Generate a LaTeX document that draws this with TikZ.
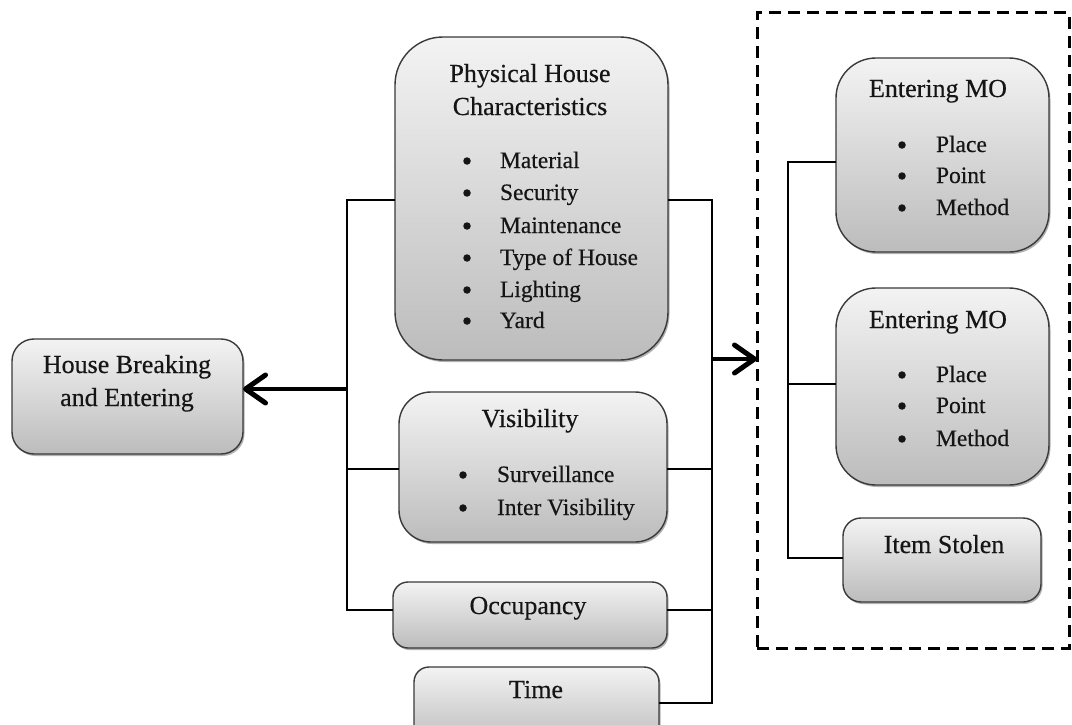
\documentclass[tikz,border=0pt]{standalone}
\usepackage{fontspec}
\setmainfont{Liberation Serif}[FakeBold=0.4]
\usetikzlibrary{arrows.meta,shadows}
\definecolor{boxtop}{HTML}{F3F3F3}
\definecolor{boxbot}{HTML}{BCBCBC}
\definecolor{boxline}{HTML}{3A3A3A}
\definecolor{txtc}{HTML}{151515}
\begin{document}
\begin{tikzpicture}[x=1pt,y=-1pt,
  box/.style={draw=boxline, line width=1.4pt, top color=boxtop, bottom color=boxbot,
    inner sep=0pt, outer sep=0pt,
    drop shadow={shadow xshift=1.5pt, shadow yshift=-2pt, opacity=.3, fill=black}},
  txt/.style={font=\fontsize{23.5}{27}\selectfont, text=txtc, inner sep=0pt, outer sep=0pt},
  ttl/.style={font=\fontsize{26}{30}\selectfont, text=txtc, inner sep=0pt, outer sep=0pt, anchor=base},
  dot/.style={circle, fill=txtc, inner sep=0pt, outer sep=0pt, minimum size=7.5pt},
  conn/.style={line width=2.2pt, black},
  bigarrow/.style={line width=4.8pt, black, -{Straight Barb[length=20pt,width=28pt,line width=5pt,round]}},
  dashbox/.style={draw=black, line width=3pt, dash pattern=on 12pt off 7pt, inner sep=0pt, outer sep=0pt}]
\useasboundingbox (0,0) rectangle (1072,725);
\clip (0,0) rectangle (1072,725);
\fill[white] (0,0) rectangle (1072,725);

% dashed group
\node[dashbox, minimum width=312pt, minimum height=635pt] (group) at (913,330.5) {};

% boxes
\node[box, minimum width=231pt, minimum height=115pt, rounded corners=22pt] (hbe) at (127.5,396.5) {};
\node[box, minimum width=273pt, minimum height=323pt, rounded corners=48pt] (phys) at (531.5,198.5) {};
\node[box, minimum width=268pt, minimum height=150pt, rounded corners=32pt] (vis) at (533,467) {};
\node[box, minimum width=274pt, minimum height=66pt, rounded corners=15pt] (occ) at (530,615) {};
\node[box, minimum width=245pt, minimum height=78pt, rounded corners=15pt] (time) at (536.5,706) {};
\node[box, minimum width=213pt, minimum height=194pt, rounded corners=40pt] (emo1) at (942.5,155) {};
\node[box, minimum width=213pt, minimum height=197pt, rounded corners=40pt] (emo2) at (942.5,386.5) {};
\node[box, minimum width=198pt, minimum height=84pt, rounded corners=18pt] (item) at (942,560) {};

% texts
\node[ttl] (hbeA) at (127,373) {House Breaking};
\node[ttl] (hbeB) at (127,406) {and Entering};

\node[ttl] (physA) at (530,82) {Physical House};
\node[ttl] (physB) at (530,115) {Characteristics};
\node[dot] (pb1) at (467,161) {};
\node[dot] (pb2) at (467,193) {};
\node[dot] (pb3) at (467,226) {};
\node[dot] (pb4) at (467,258) {};
\node[dot] (pb5) at (467,290) {};
\node[dot] (pb6) at (467,321) {};
\node[txt, anchor=base west] (pi1) at (500,168) {Material};
\node[txt, anchor=base west] (pi2) at (500,200) {Security};
\node[txt, anchor=base west] (pi3) at (500,233) {Maintenance};
\node[txt, anchor=base west] (pi4) at (500,265) {Type of House};
\node[txt, anchor=base west] (pi5) at (500,297) {Lighting};
\node[txt, anchor=base west] (pi6) at (500,328) {Yard};

\node[ttl] (visA) at (530,427) {Visibility};
\node[dot] (vb1) at (463,475) {};
\node[dot] (vb2) at (463,508) {};
\node[txt, anchor=base west] (vi1) at (497,482) {Surveillance};
\node[txt, anchor=base west] (vi2) at (497,515) {Inter Visibility};

\node[ttl] (occA) at (528,614) {Occupancy};
\node[ttl] (timeA) at (536,698) {Time};

\node[ttl] (emoA) at (938,97) {Entering MO};
\node[dot] (eb1) at (902,145) {};
\node[dot] (eb2) at (902,176) {};
\node[dot] (eb3) at (902,208) {};
\node[txt, anchor=base west] (ei1) at (936,152) {Place};
\node[txt, anchor=base west] (ei2) at (936,183) {Point};
\node[txt, anchor=base west] (ei3) at (936,215) {Method};

\node[ttl] (emoB) at (938,328) {Entering MO};
\node[dot] (fb1) at (902,375) {};
\node[dot] (fb2) at (902,406) {};
\node[dot] (fb3) at (902,439) {};
\node[txt, anchor=base west] (fi1) at (936,382) {Place};
\node[txt, anchor=base west] (fi2) at (936,413) {Point};
\node[txt, anchor=base west] (fi3) at (936,446) {Method};

\node[ttl] (itemA) at (944,553) {Item Stolen};

% connector junctions
\coordinate (lb1) at (347,200);
\coordinate (lb2) at (347,469);
\coordinate (lb3) at (347,610);
\coordinate (la) at (347,389);
\coordinate (rb1) at (712,200);
\coordinate (rb2) at (712,469);
\coordinate (rb3) at (712,610);
\coordinate (rb4) at (712,703);
\coordinate (ra) at (712,359);
\coordinate (ib1) at (788,162);
\coordinate (ib2) at (788,384);
\coordinate (ib3) at (788,558);

% left bus
\draw[conn] (phys.west |- lb1) -- (lb1) -- (lb3) -- (occ.west |- lb3);
\draw[conn] (lb2) -- (vis.west |- lb2);
\draw[bigarrow] (la) -- (hbe.east |- la);

% right bus
\draw[conn] (phys.east |- rb1) -- (rb1) -- (rb4) -- (time.east |- rb4);
\draw[conn] (vis.east |- rb2) -- (rb2);
\draw[conn] (occ.east |- rb3) -- (rb3);
\draw[bigarrow] (ra) -- (group.west |- ra);

% inner bus
\draw[conn] (emo1.west |- ib1) -- (ib1) -- (ib3) -- (item.west |- ib3);
\draw[conn] (ib2) -- (emo2.west |- ib2);
\end{tikzpicture}
\end{document}
